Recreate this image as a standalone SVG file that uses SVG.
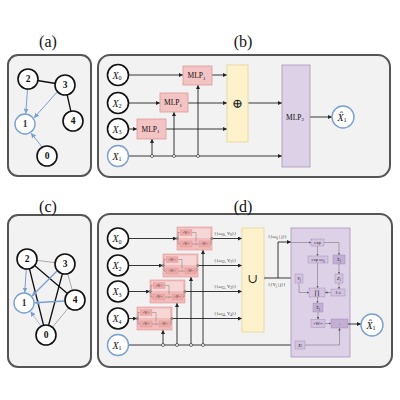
<svg xmlns="http://www.w3.org/2000/svg" width="400" height="400" viewBox="0 0 400 400">
<defs>
<style>
.panel{fill:#f2f2f2;stroke:#555;stroke-width:2}
.lbl{font-family:"Liberation Serif","DejaVu Serif",serif;font-size:16px;text-anchor:middle;fill:#111}
.node{fill:#fff;stroke:#111;stroke-width:1.6}
.bnode{fill:#fff;stroke:#7a9fd0;stroke-width:1.4}
.num{font-family:"Liberation Serif","DejaVu Serif",serif;font-size:9.5px;font-weight:bold;text-anchor:middle;fill:#111}
.bnum{font-family:"Liberation Serif","DejaVu Serif",serif;font-size:9.5px;font-weight:bold;text-anchor:middle;fill:#333}
.xl{font-family:"Liberation Serif","DejaVu Serif",serif;font-style:italic;font-size:10px;text-anchor:middle;fill:#111}
.xs{font-style:normal;font-size:6px}
.mlp{fill:#f4c4c4;stroke:#dc9a9a;stroke-width:0.8}
.yel{fill:#fdf2cc;stroke:#e6d49a;stroke-width:0.8}
.pur{fill:#ddd1e7;stroke:#a893bd;stroke-width:0.8}
.mt{font-family:"Liberation Serif","DejaVu Serif",serif;font-size:7.5px;text-anchor:middle;fill:#111}
.big{font-family:"Liberation Serif","DejaVu Serif",serif;font-size:13px;text-anchor:middle;fill:#222}
.w{stroke:#222;stroke-width:0.9;fill:none}
.wa{stroke:#222;stroke-width:0.9;fill:none;marker-end:url(#ah)}
.ea{stroke:#7a9fd0;stroke-width:1;fill:none;marker-end:url(#bh)}
.eb{stroke:#111;stroke-width:1.3;fill:none}
.eg{stroke:#aaa;stroke-width:1;fill:none}
.jc{fill:#fff;stroke:#222;stroke-width:0.6}
.rb{fill:#f3bcbc;stroke:#e09595;stroke-width:0.6}
.ri{fill:#f7d6d6;stroke:none}
.rs{fill:#eeaaaa;stroke:#c97c7c;stroke-width:0.3;stroke-dasharray:0.8 0.5}
.rt{font-family:"Liberation Serif","DejaVu Serif",serif;font-size:3px;text-anchor:middle;fill:#333}
.rp{font-family:"Liberation Serif","DejaVu Serif",serif;font-size:4.5px;text-anchor:middle;fill:#333}
.rl{stroke:#555;stroke-width:0.35;fill:none}
.el{font-family:"Liberation Serif","DejaVu Serif",serif;font-size:4.6px;fill:#222}
.pb{fill:#d3c3e0;stroke:#8f7aa6;stroke-width:0.35}
.pbd{fill:#d3c3e0;stroke:#6f5a86;stroke-width:0.4;stroke-dasharray:0.8 0.5}
.pbk{fill:#c2afd3;stroke:#8f7aa6;stroke-width:0.35}
.pt{font-family:"Liberation Serif","DejaVu Serif",serif;font-size:4.5px;text-anchor:middle;fill:#222}
.pti{font-family:"Liberation Serif","DejaVu Serif",serif;font-size:4.5px;font-style:italic;text-anchor:middle;fill:#222}
.pbig{font-family:"Liberation Serif","DejaVu Serif",serif;font-size:6.5px;text-anchor:middle;fill:#222}
.pl{stroke:#666;stroke-width:0.5;fill:none}
.pla{stroke:#666;stroke-width:0.5;fill:none;marker-end:url(#sh)}
</style>
<marker id="ah" viewBox="0 0 6 6" refX="6" refY="3" markerWidth="4" markerHeight="4" orient="auto" markerUnits="userSpaceOnUse"><path d="M0,0L6,3L0,6z" fill="#222"/></marker>
<marker id="bh" viewBox="0 0 6 6" refX="6" refY="3" markerWidth="5" markerHeight="5" orient="auto" markerUnits="userSpaceOnUse"><path d="M0,0L6,3L0,6z" fill="#7a9fd0"/></marker>
<marker id="sh" viewBox="0 0 6 6" refX="6" refY="3" markerWidth="2.5" markerHeight="2.5" orient="auto" markerUnits="userSpaceOnUse"><path d="M0,0L6,3L0,6z" fill="#555"/></marker>
</defs>

<!-- panel frames & labels -->
<rect class="panel" x="8" y="55" width="83" height="121" rx="10"/>
<rect class="panel" x="98" y="55" width="292" height="122" rx="12"/>
<rect class="panel" x="8" y="215" width="83" height="152" rx="10"/>
<rect class="panel" x="98" y="214" width="294" height="153" rx="12"/>
<text class="lbl" x="48" y="47">(a)</text>
<text class="lbl" x="243" y="47">(b)</text>
<text class="lbl" x="48" y="212">(c)</text>
<text class="lbl" x="243" y="212">(d)</text>

<!-- connectors -->
<g id="connectors">
  <!-- (a) -->
  <line class="eb" x1="28" y1="79" x2="65" y2="85"/>
  <line class="eb" x1="65" y1="85" x2="73" y2="121"/>
  <path class="ea" d="M27.5,89 L25.8,113.6"/>
  <path class="ea" d="M57,92 L34,118"/>
  <path class="ea" d="M42,147 L31,133"/>
  <!-- (c) -->
  <line class="eg" x1="27" y1="259" x2="65" y2="264"/>
  <line class="eg" x1="65" y1="264" x2="75" y2="300"/>
  <line class="eg" x1="75" y1="300" x2="46" y2="335"/>
  <line class="eb" x1="27" y1="259" x2="75" y2="300"/>
  <line class="eb" x1="27" y1="259" x2="46" y2="335"/>
  <line class="eb" x1="65" y1="264" x2="46" y2="335"/>
  <path class="ea" d="M26.3,269 L24.7,292.6"/>
  <path class="ea" d="M57,271 L32,296" style="stroke-width:1.2"/>
  <path class="ea" d="M64.5,301 L34.5,302.8" style="stroke-width:1.5"/>
  <path class="ea" d="M41,326 L30.5,311.5" style="stroke:#a9c0e0"/>

  <!-- (b) -->
  <path class="wa" d="M128.5,75 H183"/>
  <path class="wa" d="M212,75 H227"/>
  <path class="wa" d="M128.5,103 H160"/>
  <path class="wa" d="M188,103 H227"/>
  <path class="wa" d="M128.5,129 H137"/>
  <path class="wa" d="M166,129 H227"/>
  <path class="wa" d="M248,103 H282"/>
  <path class="wa" d="M128.5,156 H282"/>
  <path class="wa" d="M152,156 V139"/>
  <path class="wa" d="M174,156 V112"/>
  <path class="wa" d="M198,156 V85"/>
  <path class="wa" d="M310,117 H332"/>
  <circle class="jc" cx="152" cy="156" r="1.5"/>
  <circle class="jc" cx="174" cy="156" r="1.5"/>
  <circle class="jc" cx="198" cy="156" r="1.5"/>

  <!-- (d) -->
  <path class="wa" d="M128.5,238.5 H177"/>
  <path class="wa" d="M128.5,265.5 H163"/>
  <path class="wa" d="M128.5,291.5 H150"/>
  <path class="wa" d="M128.5,318.5 H137"/>
  <path class="wa" d="M212,238.5 H242"/>
  <path class="wa" d="M198,265.5 H242"/>
  <path class="wa" d="M185,291.5 H242"/>
  <path class="wa" d="M172,318.5 H242"/>
  <path class="wa" d="M128.5,345 H295"/>
  <path class="wa" d="M163,345 V330"/>
  <path class="wa" d="M177,345 V303"/>
  <path class="wa" d="M191,345 V277"/>
  <path class="wa" d="M203,345 V250"/>
  <circle class="jc" cx="163" cy="345" r="1.5"/>
  <circle class="jc" cx="177" cy="345" r="1.5"/>
  <circle class="jc" cx="191" cy="345" r="1.5"/>
  <circle class="jc" cx="203" cy="345" r="1.5"/>
  <path class="w" d="M264,278 H278 V242"/>
  <path class="wa" d="M278,242 H291"/>
  <path class="wa" d="M278,278 H295"/>
  <circle class="jc" cx="264" cy="278" r="1"/>
  <text class="el" x="214" y="234.5">{{ω<tspan dy="1" font-size="3.2">10</tspan><tspan dy="-1">, V</tspan><tspan dy="1" font-size="3.2">0</tspan><tspan dy="-1">}}</tspan></text>
  <text class="el" x="214" y="261.5">{{ω<tspan dy="1" font-size="3.2">12</tspan><tspan dy="-1">, V</tspan><tspan dy="1" font-size="3.2">2</tspan><tspan dy="-1">}}</tspan></text>
  <text class="el" x="214" y="287.5">{{ω<tspan dy="1" font-size="3.2">13</tspan><tspan dy="-1">, V</tspan><tspan dy="1" font-size="3.2">3</tspan><tspan dy="-1">}}</tspan></text>
  <text class="el" x="214" y="314.5">{{ω<tspan dy="1" font-size="3.2">14</tspan><tspan dy="-1">, V</tspan><tspan dy="1" font-size="3.2">4</tspan><tspan dy="-1">}}</tspan></text>
  <text class="el" x="268" y="237.5">{{ω<tspan dy="1" font-size="3.2">1j</tspan><tspan dy="-1"> | j}}</tspan></text>
  <text class="el" x="268" y="285.5">{{V<tspan dy="1" font-size="3.2">j</tspan><tspan dy="-1"> | j}}</tspan></text>
</g>

<!-- (a) nodes -->
<g id="a-node-2"><circle class="node" cx="28" cy="79" r="10"/><text class="num" x="28" y="82.3">2</text></g>
<g id="a-node-3"><circle class="node" cx="65" cy="85" r="10"/><text class="num" x="65" y="88.3">3</text></g>
<g id="a-node-1"><circle class="bnode" cx="25" cy="124" r="10"/><text class="bnum" x="25" y="127.3">1</text></g>
<g id="a-node-4"><circle class="node" cx="73" cy="121" r="10"/><text class="num" x="73" y="124.3">4</text></g>
<g id="a-node-0"><circle class="node" cx="47" cy="156" r="10"/><text class="num" x="47" y="159.3">0</text></g>

<!-- (c) nodes -->
<g id="c-node-2"><circle class="node" cx="27" cy="259" r="10"/><text class="num" x="27" y="262.3">2</text></g>
<g id="c-node-3"><circle class="node" cx="65" cy="264" r="10"/><text class="num" x="65" y="267.3">3</text></g>
<g id="c-node-1"><circle class="bnode" cx="24" cy="303" r="10"/><text class="bnum" x="24" y="306.3">1</text></g>
<g id="c-node-4"><circle class="node" cx="75" cy="300" r="10"/><text class="num" x="75" y="303.3">4</text></g>
<g id="c-node-0"><circle class="node" cx="46" cy="335" r="10"/><text class="num" x="46" y="338.3">0</text></g>

<!-- (b) nodes -->
<g id="b-X0"><circle class="node" cx="118" cy="75" r="10.5"/><text class="xl" x="117" y="78.5">X<tspan class="xs" dy="1.5">0</tspan></text></g>
<g id="b-X2"><circle class="node" cx="118" cy="103" r="10.5"/><text class="xl" x="117" y="106.5">X<tspan class="xs" dy="1.5">2</tspan></text></g>
<g id="b-X3"><circle class="node" cx="118" cy="129" r="10.5"/><text class="xl" x="117" y="132.5">X<tspan class="xs" dy="1.5">3</tspan></text></g>
<g id="b-X1"><circle class="bnode" cx="118" cy="156" r="10.5"/><text class="xl" x="117" y="159.5">X<tspan class="xs" dy="1.5">1</tspan></text></g>
<g id="b-mlp1-top"><rect class="mlp" x="183" y="66" width="29" height="19"/><text class="mt" x="196.5" y="78">MLP<tspan font-size="5" dy="1.5">1</tspan></text></g>
<g id="b-mlp1-mid"><rect class="mlp" x="160" y="93" width="28" height="19"/><text class="mt" x="173" y="105">MLP<tspan font-size="5" dy="1.5">1</tspan></text></g>
<g id="b-mlp1-bot"><rect class="mlp" x="137" y="119" width="29" height="20"/><text class="mt" x="150.5" y="131.5">MLP<tspan font-size="5" dy="1.5">1</tspan></text></g>
<g id="b-sum"><rect class="yel" x="227" y="65" width="21" height="77"/><text class="big" x="237.5" y="107.5">⊕</text></g>
<g id="b-mlp2"><rect class="pur" x="282" y="65" width="28" height="102"/><text class="mt" x="295" y="119.5">MLP<tspan font-size="5" dy="1.5">2</tspan></text></g>
<g id="b-Xhat"><circle class="bnode" cx="343" cy="117" r="11"/><text class="xl" x="342" y="120.5">X̂<tspan class="xs" dy="1.5">1</tspan></text></g>

<!-- (d) nodes -->
<g id="d-X0"><circle class="node" cx="118" cy="238.5" r="10.5"/><text class="xl" x="117" y="242">X<tspan class="xs" dy="1.5">0</tspan></text></g>
<g id="d-X2"><circle class="node" cx="118" cy="265.5" r="10.5"/><text class="xl" x="117" y="269">X<tspan class="xs" dy="1.5">2</tspan></text></g>
<g id="d-X3"><circle class="node" cx="118" cy="291.5" r="10.5"/><text class="xl" x="117" y="295">X<tspan class="xs" dy="1.5">3</tspan></text></g>
<g id="d-X4"><circle class="node" cx="118" cy="318.5" r="10.5"/><text class="xl" x="117" y="322">X<tspan class="xs" dy="1.5">4</tspan></text></g>
<g id="d-X1"><circle class="bnode" cx="118" cy="345" r="10.5"/><text class="xl" x="117" y="348.5">X<tspan class="xs" dy="1.5">1</tspan></text></g>

<!-- red message blocks -->
<g id="d-msg-0" transform="translate(177,227)">
  <rect class="rb" width="35" height="23"/><rect class="ri" x="2" y="1.5" width="31" height="9.5"/>
  <path class="rl" d="M0,11.5 H1 V5.5 H3 M1,11.5 V17 H3 M15,5.5 H19 V14.5 M15,17 H22 M33,17 H34 V11.5 H35"/>
  <rect class="rs" x="3" y="2.5" width="12" height="6"/><text class="rt" x="9" y="6.6">×W<tspan font-size="2" dy="-1">(1)</tspan></text>
  <rect class="rs" x="3" y="14" width="12" height="6"/><text class="rt" x="9" y="18.1">×W<tspan font-size="2" dy="-1">(2)</tspan></text>
  <text class="rp" x="19" y="18.6">+</text>
  <rect class="rs" x="22" y="14" width="11" height="6"/><text class="rt" x="27.5" y="18.1">×W<tspan font-size="2" dy="-1">(3)</tspan></text>
  <circle class="jc" cx="35" cy="11.5" r="0.9"/><circle class="jc" cx="0" cy="11.5" r="0.9"/>
</g>
<g id="d-msg-2" transform="translate(163,254)">
  <rect class="rb" width="35" height="23"/><rect class="ri" x="2" y="1.5" width="31" height="9.5"/>
  <path class="rl" d="M0,11.5 H1 V5.5 H3 M1,11.5 V17 H3 M15,5.5 H19 V14.5 M15,17 H22 M33,17 H34 V11.5 H35"/>
  <rect class="rs" x="3" y="2.5" width="12" height="6"/><text class="rt" x="9" y="6.6">×W<tspan font-size="2" dy="-1">(1)</tspan></text>
  <rect class="rs" x="3" y="14" width="12" height="6"/><text class="rt" x="9" y="18.1">×W<tspan font-size="2" dy="-1">(2)</tspan></text>
  <text class="rp" x="19" y="18.6">+</text>
  <rect class="rs" x="22" y="14" width="11" height="6"/><text class="rt" x="27.5" y="18.1">×W<tspan font-size="2" dy="-1">(3)</tspan></text>
  <circle class="jc" cx="35" cy="11.5" r="0.9"/><circle class="jc" cx="0" cy="11.5" r="0.9"/>
</g>
<g id="d-msg-3" transform="translate(150,280)">
  <rect class="rb" width="35" height="23"/><rect class="ri" x="2" y="1.5" width="31" height="9.5"/>
  <path class="rl" d="M0,11.5 H1 V5.5 H3 M1,11.5 V17 H3 M15,5.5 H19 V14.5 M15,17 H22 M33,17 H34 V11.5 H35"/>
  <rect class="rs" x="3" y="2.5" width="12" height="6"/><text class="rt" x="9" y="6.6">×W<tspan font-size="2" dy="-1">(1)</tspan></text>
  <rect class="rs" x="3" y="14" width="12" height="6"/><text class="rt" x="9" y="18.1">×W<tspan font-size="2" dy="-1">(2)</tspan></text>
  <text class="rp" x="19" y="18.6">+</text>
  <rect class="rs" x="22" y="14" width="11" height="6"/><text class="rt" x="27.5" y="18.1">×W<tspan font-size="2" dy="-1">(3)</tspan></text>
  <circle class="jc" cx="35" cy="11.5" r="0.9"/><circle class="jc" cx="0" cy="11.5" r="0.9"/>
</g>
<g id="d-msg-4" transform="translate(137,307)">
  <rect class="rb" width="35" height="23"/><rect class="ri" x="2" y="1.5" width="31" height="9.5"/>
  <path class="rl" d="M0,11.5 H1 V5.5 H3 M1,11.5 V17 H3 M15,5.5 H19 V14.5 M15,17 H22 M33,17 H34 V11.5 H35"/>
  <rect class="rs" x="3" y="2.5" width="12" height="6"/><text class="rt" x="9" y="6.6">×W<tspan font-size="2" dy="-1">(1)</tspan></text>
  <rect class="rs" x="3" y="14" width="12" height="6"/><text class="rt" x="9" y="18.1">×W<tspan font-size="2" dy="-1">(2)</tspan></text>
  <text class="rp" x="19" y="18.6">+</text>
  <rect class="rs" x="22" y="14" width="11" height="6"/><text class="rt" x="27.5" y="18.1">×W<tspan font-size="2" dy="-1">(3)</tspan></text>
  <circle class="jc" cx="35" cy="11.5" r="0.9"/><circle class="jc" cx="0" cy="11.5" r="0.9"/>
</g>

<g id="d-union"><rect class="yel" x="242" y="228" width="22" height="104"/><text class="big" x="253" y="283">∪</text></g>

<!-- purple aggregation block -->
<g id="d-agg">
  <rect class="pur" x="291" y="228" width="59" height="129"/>
  <path class="pla" d="M291,242.5 H311"/>
  <path class="pla" d="M324,242.5 H339 V255"/>
  <path class="pla" d="M317.5,246 V256"/>
  <path class="pla" d="M317.5,263 V288"/>
  <path class="pla" d="M339,264 V274"/>
  <path class="pla" d="M339,283 V289"/>
  <path class="pla" d="M331,292.5 H325"/>
  <path class="pla" d="M299,283 V292.5 H309"/>
  <path class="pla" d="M317.5,297 V303"/>
  <path class="pla" d="M318,312 V319.5"/>
  <path class="pla" d="M325,323.5 H331"/>
  <path class="pla" d="M305,345 H339.5 V328"/>
  <rect class="pbd" x="311" y="239" width="13" height="7"/><text class="pt" x="317.5" y="244">exp</text>
  <rect class="pb" x="308" y="256" width="20" height="7"/><text class="pt" x="318" y="261">exp ω<tspan font-size="3" dy="0.8">1j</tspan></text>
  <rect class="pbk" x="333" y="255" width="12" height="9"/><text class="pt" x="339" y="261">Σ<tspan font-size="3" dy="0.8">j</tspan></text>
  <rect class="pb" x="335" y="274" width="8" height="9"/><text class="pti" x="339" y="280">Z<tspan font-size="3" dy="0.8">1</tspan></text>
  <rect class="pb" x="295" y="274" width="8" height="9"/><text class="pti" x="299" y="280">V<tspan font-size="3" dy="0.8">j</tspan></text>
  <rect class="pbd" x="309" y="288" width="16" height="9"/><text class="pbig" x="317" y="295">∏</text>
  <rect class="pb" x="331" y="289" width="14" height="7"/><text class="pt" x="338" y="294">1/<tspan font-style="italic">z</tspan></text>
  <rect class="pbk" x="313" y="303" width="10" height="9"/><text class="pt" x="318" y="309">Σ<tspan font-size="3" dy="0.8">j</tspan></text>
  <rect class="pb" x="311" y="319.5" width="14" height="8"/><text class="pt" x="318" y="325">×W<tspan font-size="2.8" dy="-1.2">(4)</tspan></text>
  <rect class="pbk" x="331" y="319" width="17" height="9"/><text class="pt" x="339.5" y="325.5">+</text>
  <rect class="pb" x="295" y="341" width="10" height="8"/><text class="pti" x="300" y="346.5">X<tspan font-size="3" dy="0.8">1</tspan></text>
</g>
<path class="wa" d="M348,324 H361"/>
<g id="d-Xhat"><circle class="bnode" cx="372" cy="325" r="11"/><text class="xl" x="371" y="328.5">X̂<tspan class="xs" dy="1.5">1</tspan></text></g>
</svg>
